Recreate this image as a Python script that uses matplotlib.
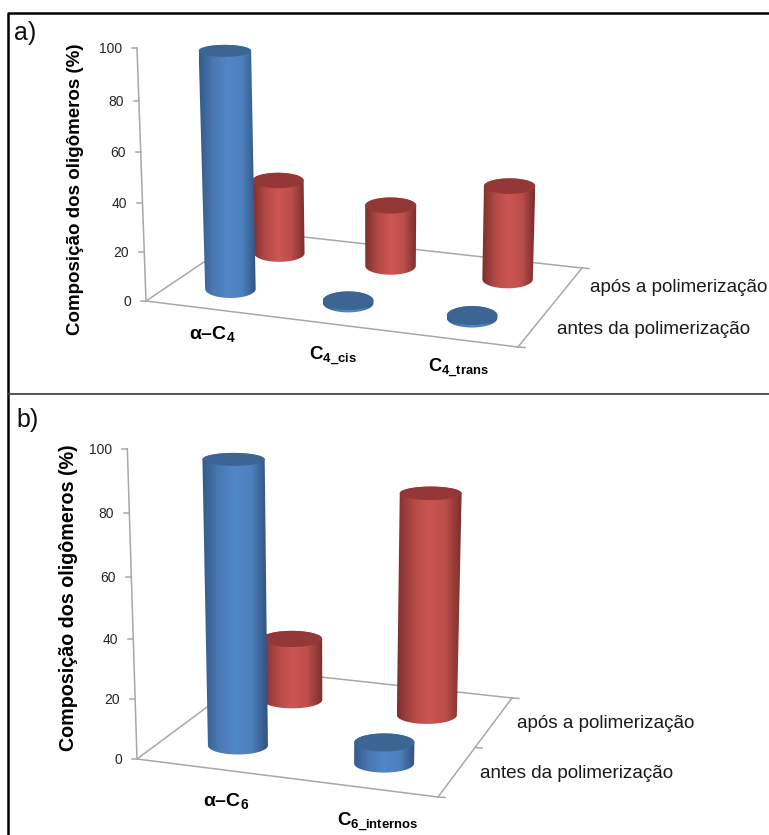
import numpy as np
import matplotlib
matplotlib.use("Agg")
import matplotlib.pyplot as plt
from matplotlib.patches import Polygon
from matplotlib.colors import LinearSegmentedColormap

plt.rcParams["font.family"] = ["Liberation Sans", "DejaVu Sans"]
plt.rcParams["mathtext.fontset"] = "custom"
plt.rcParams["mathtext.bf"] = "Liberation Sans:bold"
plt.rcParams["mathtext.rm"] = "Liberation Sans"

# values (%)
y_ticks = [0, 20, 40, 60, 80, 100]
y_title = "Composição dos oligômeros (%)"
series_names = ["antes da polimerização", "após a polimerização"]

cats_a = [r"α–$\mathbf{C}_{\mathbf{4}}$", r"$\mathbf{C}_{\mathbf{4\_cis}}$", r"$\mathbf{C}_{\mathbf{4\_trans}}$"]
before_a = [97, 1, 1]
after_a = [33.5, 27, 40]

cats_b = [r"α–$\mathbf{C}_{\mathbf{6}}$", r"$\mathbf{C}_{\mathbf{6\_internos}}$"]
before_b = [95, 7]
after_b = [23, 79]

blue_map = LinearSegmentedColormap.from_list("b", ["#365a8b", "#4a79b3", "#5287c8", "#4d80bd", "#315381"])
red_map = LinearSegmentedColormap.from_list("r", ["#7f2f2d", "#b34a47", "#cd5653", "#bb4e4b", "#7c2e2c"])
blue_top = "#3d6594"
red_top = "#933836"
axis_col = "#a8a8a8"

fig = plt.figure(figsize=(7.69, 8.35), dpi=100)
ax = fig.add_axes([0, 0, 1, 1])
ax.set_xlim(0, 769)
ax.set_ylim(835, 0)
ax.axis("off")


def floor_xy(p, u, v):
    front = np.array(p["fl"]) + u * (np.array(p["fr"]) - np.array(p["fl"]))
    back = np.array(p["bl"]) + u * (np.array(p["br"]) - np.array(p["bl"]))
    return front + v * (back - front)


def lift(p, x, y, val):
    # perspective for a height above the floor
    t = val / 100
    frac = t / (1 + 0.05 * (1 - t))
    h = (p["h0"] - (p["fl"][1] - y) * 0.6) * frac
    return x + (x - p["x0"]) * p["k"] * t, y - h


def cylinder(p, u, v, val, cmap, top_col, z):
    x0, y0 = floor_xy(p, u, v)
    x1, y1 = lift(p, x0, y0, val)
    w0 = p["w"]
    w1 = p["w"] * (1 + 0.04 * val / 100)
    h0 = p["e0"] + (y0 - p["ey"]) * p["e1"]
    h1 = p["e0"] + (y1 - p["ey"]) * p["e1"]
    a = np.linspace(0, np.pi, 50)
    base_arc = np.c_[x0 - w0 / 2 * np.cos(a), y0 + h0 * np.sin(a)]
    top_arc = np.c_[x1 + w1 / 2 * np.cos(a), y1 - h1 * np.sin(a)]
    body = Polygon(np.r_[base_arc, top_arc], closed=True, transform=ax.transData, fc="none", ec="none")
    ax.add_patch(body)
    left = min(x0 - w0 / 2, x1 - w1 / 2)
    right = max(x0 + w0 / 2, x1 + w1 / 2)
    im = ax.imshow(np.linspace(0, 1, 80).reshape(1, -1), cmap=cmap, aspect="auto",
                   extent=[left, right, y0 + h0 + 3, y1 - h1 - 3], zorder=z, interpolation="bilinear")
    im.set_clip_path(body)
    b = np.linspace(0, 2 * np.pi, 90)
    ax.add_patch(Polygon(np.c_[x1 + w1 / 2 * np.cos(b), y1 + h1 * np.sin(b)], closed=True,
                         fc=top_col, ec="none", zorder=z + 0.1))


def panel(p, cats, before, after):
    # floor and axis lines
    fl, fr, br, bl = p["fl"], p["fr"], p["br"], p["bl"]
    for a, b in [(fl, fr), (fr, br), (br, bl), (bl, fl)]:
        ax.plot([a[0], b[0]], [a[1], b[1]], color=axis_col, lw=1.1, zorder=1)
    xt, yt = lift(p, fl[0], fl[1], 100)
    ax.plot([fl[0], xt], [fl[1], yt], color=axis_col, lw=1.1, zorder=1)
    for tick in y_ticks:
        x, y = lift(p, fl[0], fl[1], tick)
        ax.plot([x - 5, x], [y, y], color=axis_col, lw=1.1, zorder=1)
        ax.text(x - 15, y + 1, str(tick), ha="right", va="center", fontsize=p["tick_fs"], color="#262626")
    # side ticks at the right floor edge
    for v in p["side_ticks"]:
        x, y = floor_xy(p, 1, v)
        ax.plot([x, x + 7], [y, y + 0.5], color=axis_col, lw=1.1, zorder=1)
    n = len(cats)
    for i in range(n):
        cylinder(p, p["u"][i], p["v"][1], after[i], red_map, red_top, 3 + i * 0.2)
    for i in range(n):
        cylinder(p, p["u"][i], p["v"][0], before[i], blue_map, blue_top, 5 + i * 0.2)
    for (x, y), s, fs in zip(p["cat_xy"], cats, p["cat_fs"]):
        ax.text(x, y, s, ha="center", va="center", fontsize=fs, fontweight="bold", color="black")
    for (x, y), s in zip(p["ser_xy"], series_names):
        ax.text(x, y, s, ha="left", va="center", fontsize=p["ser_fs"], color="#1a1a1a")
    ax.text(p["title_x"], p["title_y"], y_title, rotation=90, ha="center", va="center",
            fontsize=p["title_fs"], fontweight="bold", color="black")
    ax.text(p["tag_x"], p["tag_y"], p["tag"], ha="left", va="center", fontsize=18, color="#111111")


layout_a = dict(fl=(146, 301), fr=(518, 347), br=(582, 268), bl=(250, 231),
                u=[0.156, 0.482, 0.825], v=[0.27, 0.77], h0=253, x0=377, k=0.039,
                w=50.5, e0=6, e1=0.013, ey=50, tick_fs=10, side_ticks=[0, 1],
                cat_xy=[(212, 335), (333, 356), (458, 368)], cat_fs=[14, 13.5, 13.2],
                ser_xy=[(557, 329), (590, 288)], ser_fs=13.6,
                title_x=76, title_y=189, title_fs=13.5, tag="a)", tag_x=14, tag_y=33, )
layout_b = dict(fl=(137, 759), fr=(438, 797), br=(512, 698), bl=(257, 670),
                u=[0.245, 0.75], v=[0.25, 0.75], h0=310, x0=330, k=0.05,
                w=60, e0=6.5, e1=0.009, ey=462, tick_fs=10, side_ticks=[0, 0.5, 1],
                cat_xy=[(226, 802), (378, 822)], cat_fs=[14, 13.5],
                ser_xy=[(480, 774), (517, 724)], ser_fs=13.6,
                title_x=69, title_y=598, title_fs=14.2, tag="b)", tag_x=16, tag_y=420)

panel(layout_a, cats_a, before_a, after_a)
panel(layout_b, cats_b, before_b, after_b)

# frame around the two panels
ax.plot([769, 8, 8], [13, 13, 835], color="black", lw=1.8, zorder=10, solid_capstyle="butt")
ax.plot([8, 769], [394, 394], color="#444444", lw=1.3, zorder=10)

ax.set_xlim(0, 769)
ax.set_ylim(835, 0)
fig.savefig("out.png", dpi=100)
